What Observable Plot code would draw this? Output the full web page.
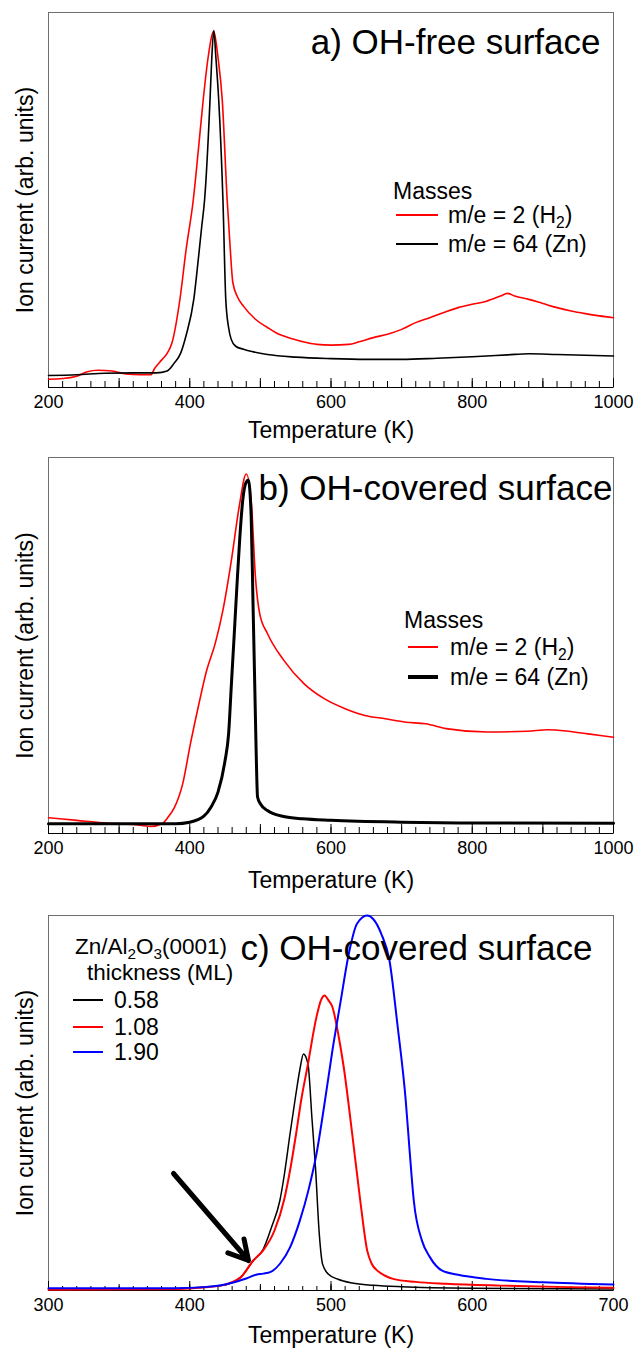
<!DOCTYPE html>
<html><head><meta charset="utf-8">
<script src="https://cdn.jsdelivr.net/npm/d3@7"></script>
<script src="https://cdn.jsdelivr.net/npm/@observablehq/plot@0.6"></script>
<style>
body{margin:0;background:#fff;}
#root{position:relative;width:635px;height:1348px;font-family:"Liberation Sans",Arial,Helvetica,sans-serif;color:#000;overflow:hidden;}
.panel{position:absolute;left:0;width:635px;}
.lg{position:absolute;white-space:nowrap;line-height:1;}
.sw{position:absolute;}
.sub{font-size:0.68em;position:relative;top:0.32em;}
</style></head><body><div id="root"></div>
<script>
// ---------- data (temperature K, ion current in % of frame height) ----------
const xTicksAB = [200, 400, 600, 800, 1000];
const xTicksC = [300, 400, 500, 600, 700];

const aH2 = [[200,2.2],[220,2.4],[240,3.0],[255,4.2],[270,4.6],[290,4.4],[310,3.6],[330,3.4],[345,3.4],[350,5.0],[360,7.3],[368,9.1],[375,12],[386,23.4],[395,37],[405,50],[412,63],[419,76.6],[426,88],[434,95],[440,88],[446,76.7],[453,50],[457,38],[461,28],[468,24],[476,21.7],[493,18.2],[510,16],[522,14.6],[545,13],[565,12],[580,11.5],[600,11.3],[625,11.5],[640,12.2],[660,13.3],[680,14.2],[700,15.5],[720,17.3],[740,18.6],[760,20],[780,21.3],[800,22.2],[820,23],[840,24.4],[850,25.1],[860,24.4],[880,23.5],[900,22.4],[920,21.3],[940,20.4],[960,19.7],[980,19.1],[1000,18.6]];
const aZn = [[200,3.2],[240,3.4],[280,3.8],[320,3.9],[353,3.9],[368,4.4],[378,6.5],[387,9.1],[395,14],[405.7,23.5],[412,34],[417,43],[421,50],[428.7,76.7],[431,87],[434,95.2],[437,88],[441,76.7],[447,50],[451,23.5],[455,16],[458.6,12.9],[465,11],[476,10.2],[490,9.5],[510,8.8],[550,8.1],[600,7.7],[650,7.5],[700,7.5],[750,7.8],[800,8.2],[850,8.7],[880,9.0],[920,8.8],[1000,8.4]];

const bH2 = [[200,4.2],[240,3.5],[280,2.8],[320,2.4],[345,1.9],[361,2.6],[370,4.5],[378,6.8],[390,13.2],[401,23.9],[413,34.5],[424,43.4],[436,50.5],[447,59.4],[459,72.7],[470,86.9],[480,95.6],[487,88.6],[493,68.2],[499,58.5],[510,53.2],[533,46.1],[562,39.8],[591,35.8],[620,33.2],[648,31.4],[677,30.5],[706,29.6],[734,29.2],[763,27.9],[821,27],[878,27.2],[907,27.6],[936,27.2],[964,26.5],[1000,25.6]];
const bZn = [[200,2.6],[300,2.6],[380,2.6],[400,3.0],[420,4.6],[430,7],[440,11],[450,19.4],[455,26.5],[459,39.8],[463,53],[467,66.5],[471,79],[475,88.6],[480,93.5],[483,94],[487,84.2],[489.5,62],[492,39.8],[494,22],[496,9.7],[500,7.9],[510,6.1],[533,4.5],[560,3.9],[600,3.5],[700,3.0],[800,2.8],[1000,2.7]];

const c058 = [[300,0.4],[390,0.5],[405,0.8],[422,1.3],[436,3.5],[445,8],[452,11],[458,17],[463.8,24],[467,31],[471,41.8],[475,52],[478,59],[480.5,63.1],[482.5,62],[484,59.6],[486.5,46],[489,32.9],[491.7,15.1],[494,7.1],[498,4.4],[505,3.0],[515,2.0],[530,1.4],[550,1.0],[600,0.6],[700,0.4]];
const c108 = [[300,0.2],[390,0.4],[405,0.7],[422,1.3],[436,3.5],[445,8],[452,10.7],[460,16],[466.7,24],[471,32],[475.3,41.8],[479,51],[483.3,59.6],[489.7,72.9],[493,77.5],[495.4,78.7],[498,77.5],[501,75.6],[505.5,67.6],[509,59.6],[515,41.8],[520.7,24],[525.6,10.7],[529,7],[532.8,5.3],[538,4],[544,3.1],[560,2.3],[581.6,1.8],[620,1.3],[667.8,0.9],[700,0.7]];
const c190 = [[300,0.6],[390,0.6],[410,0.9],[425,1.6],[440,3.2],[447,4.2],[452,4.5],[457,4.9],[464,7.2],[471,11.5],[478,18.7],[484,26.7],[489.7,36.4],[495.4,49.8],[501,64],[506.9,77.3],[512.6,89.8],[518.4,97.8],[525.6,100],[530,99],[535.6,95.1],[541.4,88],[547,71],[552.9,50.7],[555.5,38],[558.6,24],[564.4,13.3],[570,8.9],[578.7,5.3],[590,4.2],[610,3.1],[650,2.2],[700,1.6]];

const arrowC = [{x1:388.5, y1:31.2, x2:441.6, y2:8}];

const legendAB = ["m/e = 2 (H<span class='sub'>2</span>)", "m/e = 64 (Zn)"];
const legendC = ["0.58", "1.08", "1.90"];

// ---------- drawing ----------
const root = document.getElementById("root");
const FONT = "'Liberation Sans', Arial, Helvetica, sans-serif";

function panel({top, height, mt, mb, domain, labelTicks, minorStep, midStep, majorStep, series, title, titleDx, titleDy, extra = [], labelDy}) {
  const plotH = height - mt - mb;
  const minor = d3.range(domain[0], domain[1] + 0.001, minorStep);
  const mid = midStep ? d3.range(domain[0], domain[1] + 0.001, midStep) : [];
  const major = d3.range(domain[0], domain[1] + 0.001, majorStep);
  const marks = [
    Plot.frame({stroke: "#6e6e6e", strokeWidth: 1}),
    Plot.tickX(minor, {x: d => d, insetTop: plotH - (midStep ? 4 : 6), stroke: "#000", strokeWidth: 1}),
    ...(midStep ? [Plot.tickX(mid, {x: d => d, insetTop: plotH - 6, stroke: "#000", strokeWidth: 1})] : []),
    Plot.tickX(major, {x: d => d, insetTop: plotH - 9, stroke: "#000", strokeWidth: 1}),
    Plot.ruleY([0], {stroke: "#000", strokeWidth: 1.2}),
    ...series.map(s => Plot.line(s.data, {x: d => d[0], y: d => d[1], stroke: s.color, strokeWidth: s.width, curve: "monotone-x"})),
    ...extra,
    Plot.axisX({ticks: labelTicks, tickSize: 0, tickPadding: 8, fontSize: 18, label: null, tickFormat: d => String(d)}),
    Plot.text(["Temperature (K)"], {frameAnchor: "bottom", dy: labelDy, lineAnchor: "middle", fontSize: 23}),
    Plot.text(["Ion current (arb. units)"], {frameAnchor: "left", dx: -23, rotate: -90, lineAnchor: "middle", textAnchor: "middle", fontSize: 23}),
    Plot.text([title], {frameAnchor: "top-right", dx: titleDx, dy: titleDy, textAnchor: "end", lineAnchor: "middle", fontSize: 35})
  ];
  const svg = Plot.plot({
    width: 635, height,
    marginTop: mt, marginBottom: mb, marginLeft: 48, marginRight: 22,
    x: {domain},
    y: {domain: [0, 100], axis: null},
    style: {fontFamily: FONT, background: "white", overflow: "visible", color: "#000"},
    marks
  });
  const wrap = document.createElement("div");
  wrap.className = "panel";
  wrap.style.top = top + "px";
  wrap.style.height = height + "px";
  wrap.appendChild(svg);
  root.appendChild(wrap);
}

function text(html, left, cy, size) {
  const d = document.createElement("div");
  d.className = "lg";
  d.style.left = left + "px";
  d.style.fontSize = size + "px";
  d.style.top = (cy - 0.49 * size) + "px";
  d.innerHTML = html;
  root.appendChild(d);
}
function swatch(x1, x2, cy, w, color) {
  const d = document.createElement("div");
  d.className = "sw";
  d.style.left = x1 + "px";
  d.style.width = (x2 - x1) + "px";
  d.style.top = (cy - w / 2) + "px";
  d.style.height = w + "px";
  d.style.background = color;
  root.appendChild(d);
}

panel({top: 0, height: 450, mt: 12, mb: 63, domain: [200, 1000], labelTicks: xTicksAB, minorStep: 20, majorStep: 100,
  series: [{data: aH2, color: "#ff0000", width: 1.6}, {data: aZn, color: "#000", width: 1.6}],
  title: "a) OH-free surface", titleDx: -13, titleDy: 30, labelDy: 43});

panel({top: 450, height: 450, mt: 7, mb: 67, domain: [200, 1000], labelTicks: xTicksAB, minorStep: 20, majorStep: 100,
  series: [{data: bH2, color: "#ff0000", width: 1.6}, {data: bZn, color: "#000", width: 3}],
  title: "b) OH-covered surface", titleDx: -1, titleDy: 31, labelDy: 47});

panel({top: 900, height: 448, mt: 15, mb: 58, domain: [300, 700], labelTicks: xTicksC, minorStep: 10, midStep: 50, majorStep: 100,
  series: [{data: c058, color: "#000", width: 1.5}, {data: c108, color: "#ff0000", width: 2}, {data: c190, color: "#0000ff", width: 2}],
  extra: [Plot.arrow(arrowC, {x1: "x1", y1: "y1", x2: "x2", y2: "y2", stroke: "#000", strokeWidth: 5, headLength: 6.6, headAngle: 58})],
  title: "c) OH-covered surface", titleDx: -21, titleDy: 33, labelDy: 45});

// legends
text("Masses", 393, 191, 23);
swatch(396, 438, 215, 2, "#ff0000"); text(legendAB[0], 448, 215, 23);
swatch(396, 438, 244, 2, "#000"); text(legendAB[1], 448, 244, 23);

text("Masses", 404, 620, 23);
swatch(408, 438, 647, 2, "#ff0000"); text(legendAB[0], 450, 647, 23);
swatch(408, 438, 677, 3.5, "#000"); text(legendAB[1], 450, 677, 23);

text("Zn/Al<span class='sub'>2</span>O<span class='sub'>3</span>(0001)", 75, 947, 22.5);
text("thickness (ML)", 87, 973, 22.5);
const cColors = ["#000", "#ff0000", "#0000ff"];
const cY = [1000, 1027, 1052];
legendC.forEach((t, i) => { swatch(73, 103, cY[i], 2, cColors[i]); text(t, 114, cY[i], 23); });
</script></body></html>
